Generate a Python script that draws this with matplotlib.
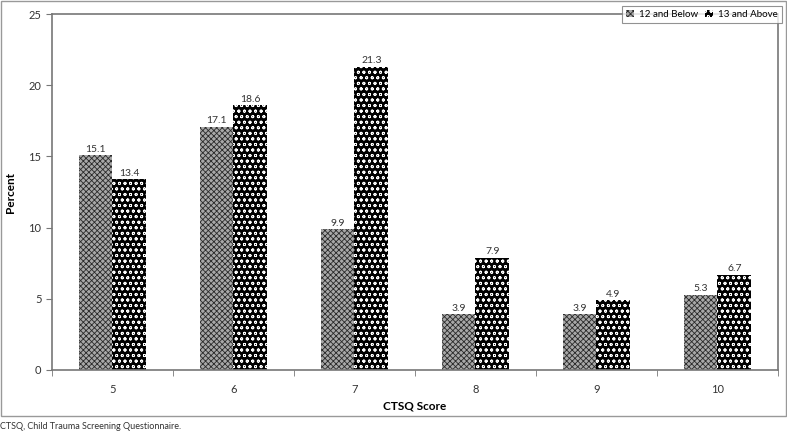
import numpy as np
import matplotlib.pyplot as plt
from matplotlib.patches import Rectangle

plt.rcParams['font.family'] = ['Lato', 'DejaVu Sans']

scores = ['5', '6', '7', '8', '9', '10']
below_12 = [15.1, 17.1, 9.9, 3.9, 3.9, 5.3]
above_13 = [13.4, 18.6, 21.3, 7.9, 4.9, 6.7]

fig = plt.figure(figsize=(7.87, 4.33), dpi=100)
ax = fig.add_axes([0.066, 0.1455, 0.9225, 0.822])

x = np.arange(len(scores))
w = 0.28
plt.rcParams['hatch.linewidth'] = 0.6
b1 = ax.bar(x - w / 2, below_12, w, facecolor='#a8a8a8', edgecolor='#2a2a2a',
            hatch='xxxxxx', linewidth=0, label='12 and Below')
b2 = ax.bar(x + w / 2, above_13, w, facecolor='black', edgecolor='white',
            hatch='ooo', linewidth=0, label='13 and Above')

for bars, vals in ((b1, below_12), (b2, above_13)):
    for r, v in zip(bars, vals):
        ax.text(r.get_x() + r.get_width() / 2, v + 0.1, f'{v}', ha='center',
                va='bottom', fontsize=7.5, color='#333333')

ax.set_xlim(-0.5, len(scores) - 0.5)
ax.set_ylim(0, 25)
ax.set_yticks([0, 5, 10, 15, 20, 25])
ax.set_xticks(x)
ax.set_xticklabels(scores)
ax.set_xticks(np.arange(len(scores) + 1) - 0.5, minor=True)
ax.tick_params(axis='x', which='major', length=0, pad=10, labelsize=8, colors='#333333')
ax.tick_params(axis='x', which='minor', length=4, color='#777777', direction='out')
ax.tick_params(axis='y', length=4, color='#777777', labelsize=8, labelcolor='#333333')
for s in ax.spines.values():
    s.set_color('#777777')
    s.set_linewidth(1.2)

ax.set_xlabel('CTSQ Score', fontsize=8.5, fontweight='bold', labelpad=4)
ax.set_ylabel('Percent', fontsize=8.5, fontweight='bold', labelpad=9)

leg = fig.legend(loc='upper right', bbox_to_anchor=(0.997, 0.993), fontsize=7,
                 frameon=True, fancybox=False, handlelength=0.8, handleheight=0.8,
                 handletextpad=0.5, columnspacing=0.8, ncol=2, borderpad=0.4,
                 borderaxespad=0.3)
leg.get_frame().set_edgecolor('#777777')
leg.get_frame().set_linewidth(0.8)

fig.patches.append(Rectangle((0.0015, 1 - 416 / 433), 0.997, 416 / 433 - 0.0025,
                             transform=fig.transFigure, fill=False,
                             edgecolor='#999999', linewidth=1))
fig.text(0.0, 0.005, 'CTSQ, Child Trauma Screening Questionnaire.', fontsize=6.5,
         color='#333333', ha='left', va='bottom')

fig.savefig('out.png', dpi=100)
